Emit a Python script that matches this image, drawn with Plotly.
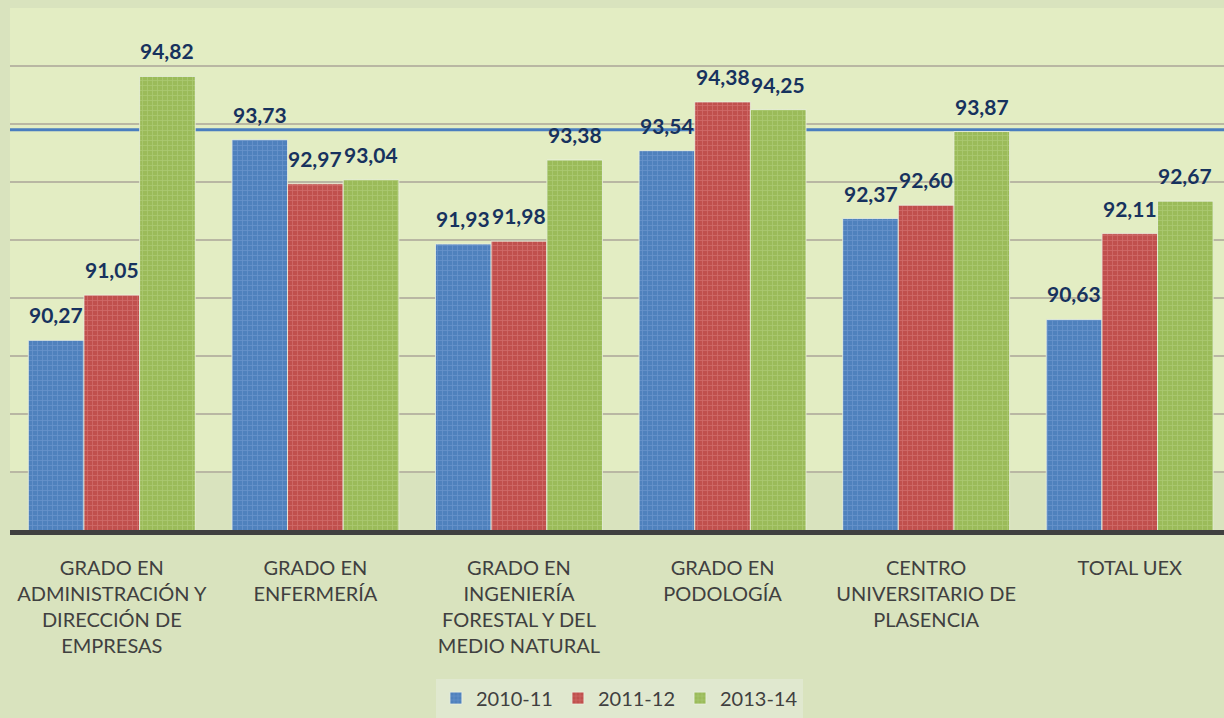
import plotly.graph_objects as go

# Categories (tick labels) and series values
categories = [
    "GRADO EN<br>ADMINISTRACIÓN Y<br>DIRECCIÓN DE<br>EMPRESAS",
    "GRADO EN<br>ENFERMERÍA",
    "GRADO EN<br>INGENIERÍA<br>FORESTAL Y DEL<br>MEDIO NATURAL",
    "GRADO EN<br>PODOLOGÍA",
    "CENTRO<br>UNIVERSITARIO DE<br>PLASENCIA",
    "TOTAL UEX",
]
series_names = ["2010-11", "2011-12", "2013-14"]
values_2010_11 = [90.27, 93.73, 91.93, 93.54, 92.37, 90.63]
values_2011_12 = [91.05, 92.97, 91.98, 94.38, 92.60, 92.11]
values_2013_14 = [94.82, 93.04, 93.38, 94.25, 93.87, 92.67]
reference_level = 93.9
y_min, y_max = 87, 96

series_values = [values_2010_11, values_2011_12, values_2013_14]
bar_colors = ["#4f81bd", "#c0504d", "#9bbb59"]
pattern_colors = ["#7ea3d6", "#de8784", "#b9d488"]

PAPER = "#d9e3be"
PLOT_LIGHT = "#e3edc3"
LABEL_NAVY = "#17325e"
TEXT_GREY = "#404040"
BARGAP = 0.18

x_idx = list(range(len(categories)))

fig = go.Figure()
for name, vals, col, pcol in zip(series_names, series_values, bar_colors, pattern_colors):
    fig.add_trace(go.Bar(
        name=name,
        x=x_idx,
        y=vals,
        marker=dict(
            color=col,
            line=dict(color="rgba(235,240,225,0.8)", width=1),
            pattern=dict(shape="+", size=5, solidity=0.3, fgcolor=pcol),
        ),
        hoverinfo="skip",
    ))

# Value labels above each bar
bar_w = (1 - BARGAP) / len(series_names)
annotations = []
for k, vals in enumerate(series_values):
    off = (k - (len(series_names) - 1) / 2) * bar_w
    for i, v in enumerate(vals):
        annotations.append(dict(
            x=i + off, y=v, xref="x", yref="y",
            text=f"<b>{v:.2f}</b>".replace(".", ","),
            showarrow=False, yanchor="bottom", xanchor="center",
            yshift=11,
            font=dict(family="Lato", size=21, color=LABEL_NAVY),
        ))

shapes = [
    # light plot-area panel above the lowest gridline
    dict(type="rect", xref="paper", yref="y", x0=0, x1=1, y0=y_min + 1, y1=y_max,
         fillcolor=PLOT_LIGHT, line=dict(width=0), layer="below"),
    # reference level line
    dict(type="line", xref="paper", yref="y", x0=0, x1=1,
         y0=reference_level, y1=reference_level,
         line=dict(color="#4a7ebf", width=3), layer="between"),
]

fig.update_layout(
    width=1224, height=718,
    margin=dict(l=10, r=0, t=8, b=188),
    paper_bgcolor=PAPER,
    plot_bgcolor=PAPER,
    barmode="group",
    bargap=BARGAP,
    bargroupgap=0,
    font=dict(family="Lato", color=TEXT_GREY),
    xaxis=dict(
        tickmode="array", tickvals=x_idx, ticktext=categories,
        range=[-0.5, 5.463],
        showgrid=False, zeroline=False,
        showline=True, linecolor="#404040", linewidth=5,
        ticks="",
        tickfont=dict(family="Lato", size=20, color=TEXT_GREY),
        ticklabelstandoff=16,
    ),
    yaxis=dict(
        range=[y_min, y_max], dtick=1,
        showticklabels=False, zeroline=False, showline=False,
        showgrid=True, gridcolor="#b9b7a3", gridwidth=2,
    ),
    showlegend=True,
    legend=dict(
        orientation="h", x=0.502, xanchor="center", y=-0.322, yanchor="middle",
        bgcolor="#e0e8cf", borderwidth=0,
        font=dict(family="Lato", size=20, color=TEXT_GREY),
        itemwidth=30,
    ),
    annotations=annotations,
    shapes=shapes,
)

fig.write_html("out.html")
